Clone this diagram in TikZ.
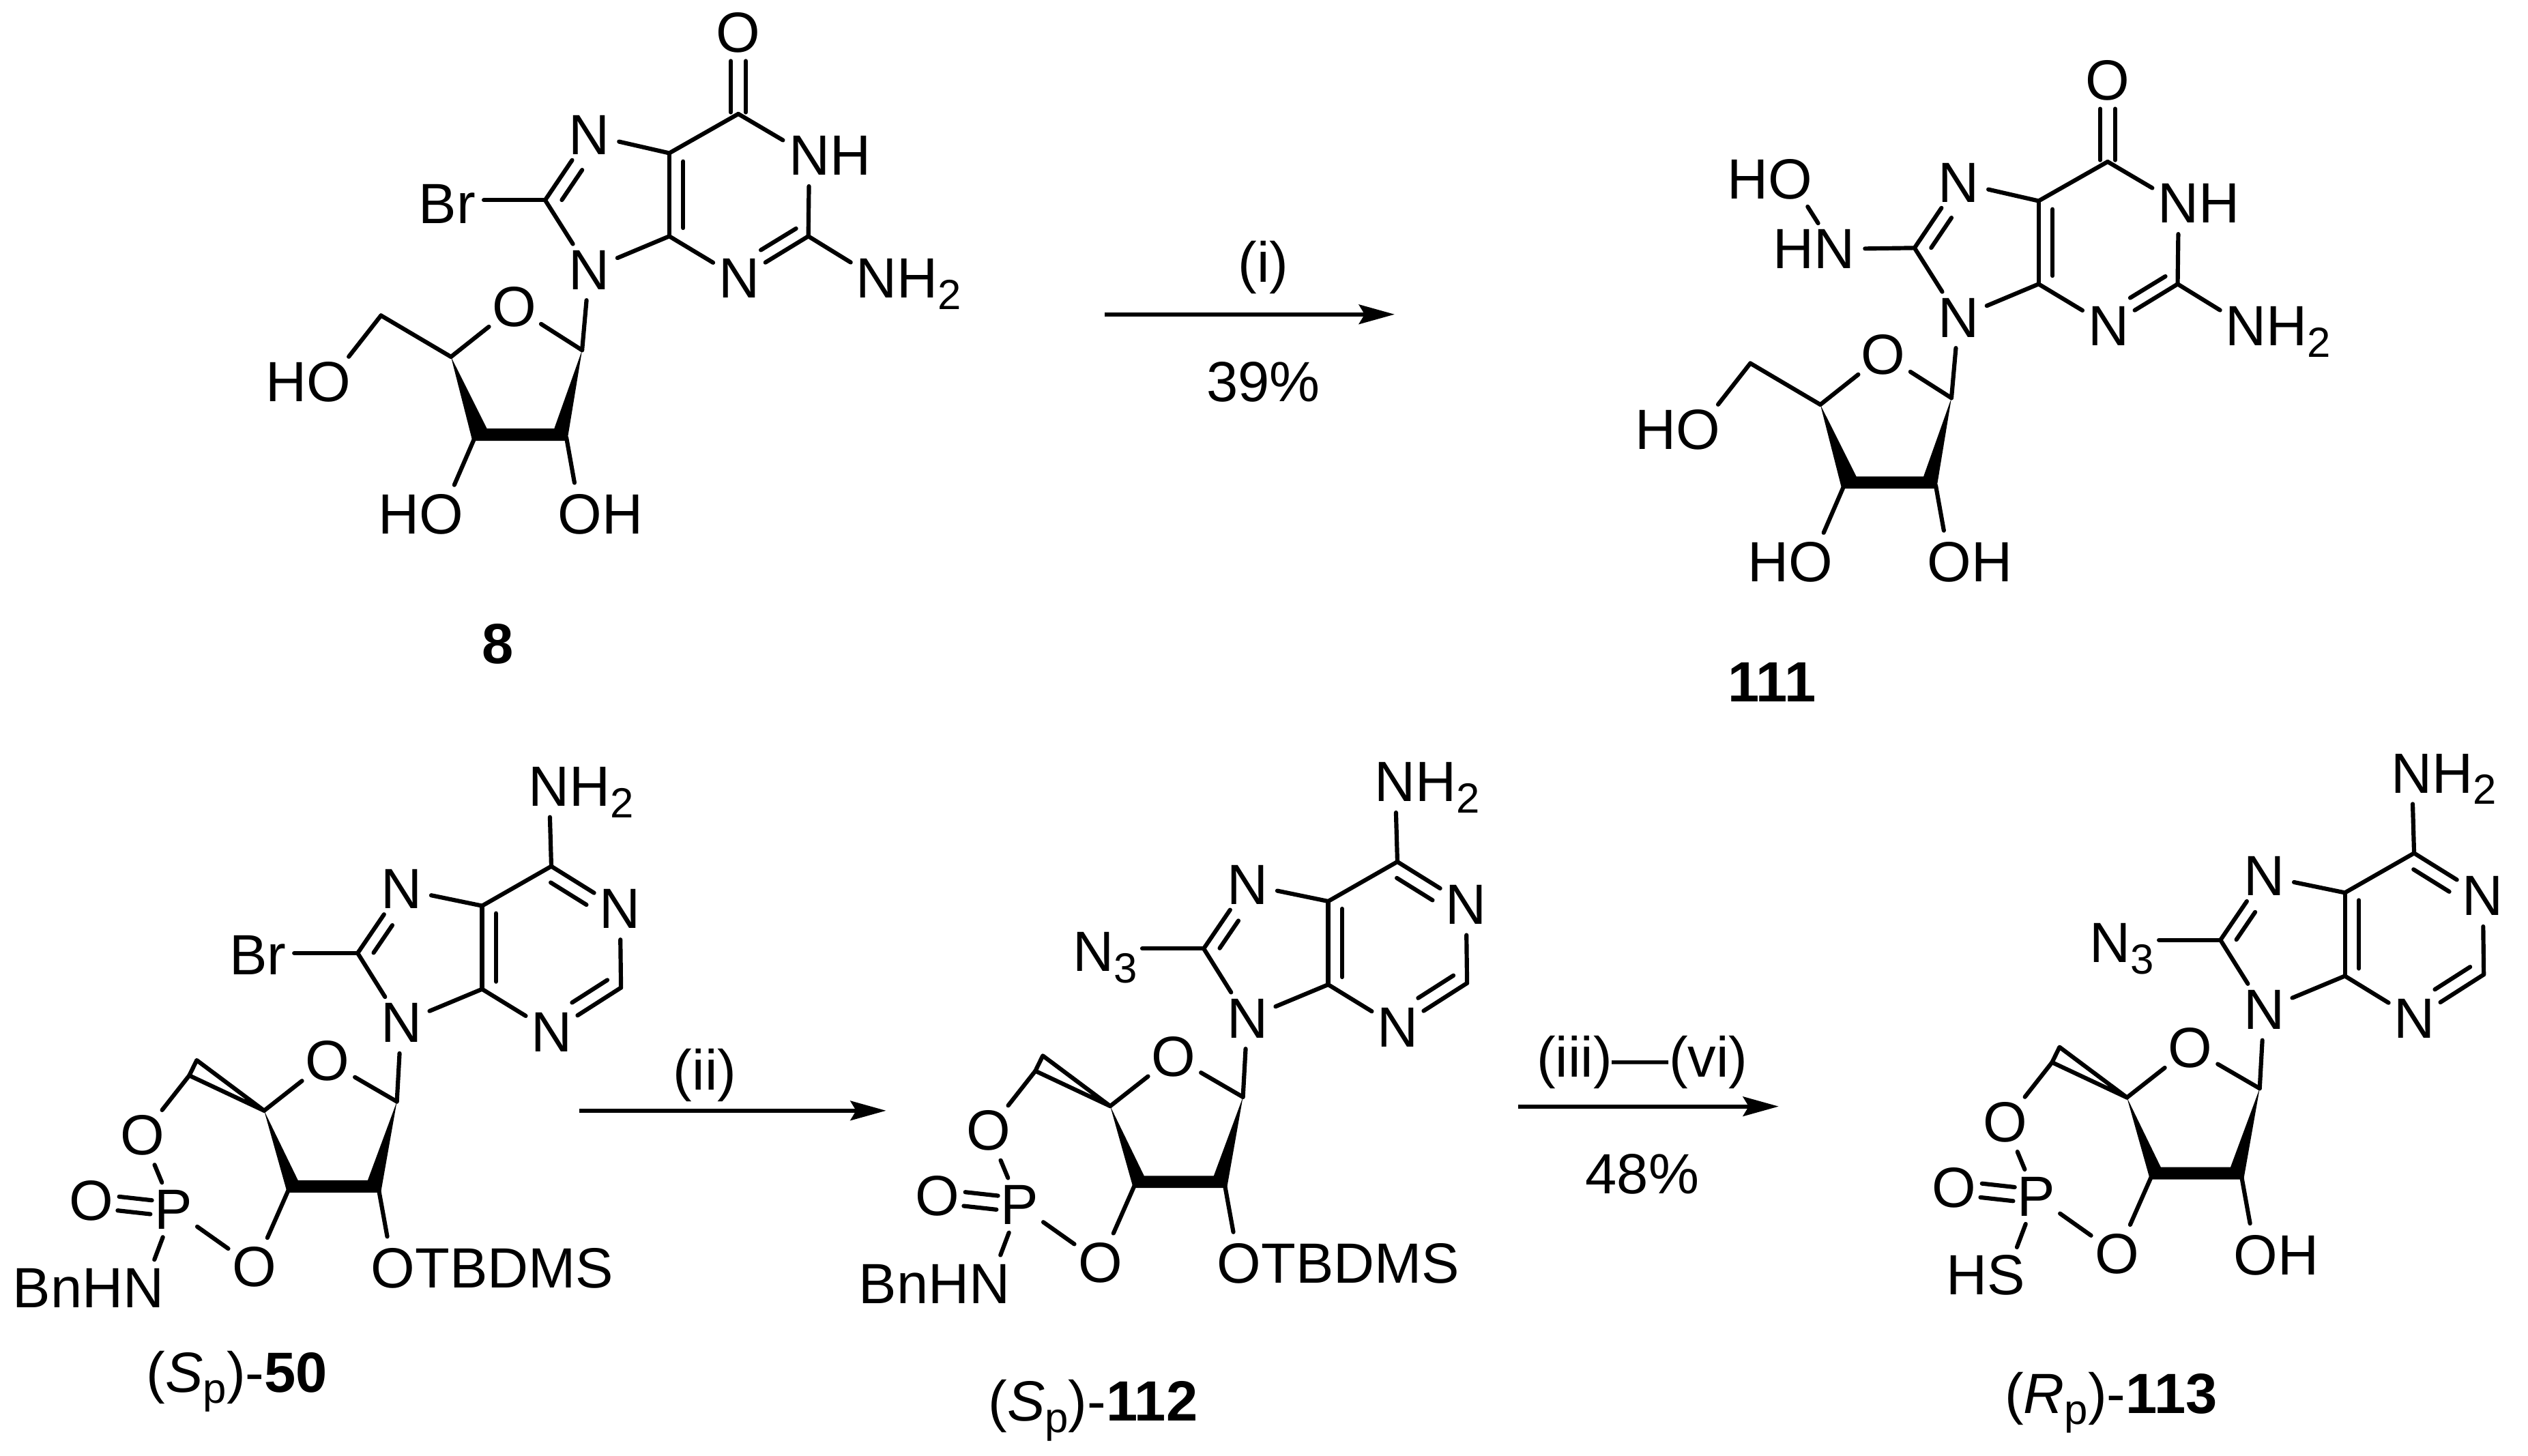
\documentclass[tikz,border=0pt]{standalone}
\usepackage{fontspec}
\setmainfont{Liberation Sans}
\usetikzlibrary{calc,arrows.meta}
\newcommand\sbs[1]{\smash{\raisebox{-7pt}{\fontsize{26}{26}\selectfont #1}}}
\newcommand\innerbond[6]{\draw[bond] ($(#1)!#4!(#2)!#6!#3:(#2)$) -- ($(#2)!#5!(#1)!#6!-#3:(#1)$);}
\newcommand\twinbond[5]{%
  \draw[bond] ($(#1)!#3!(#2)!#5!90:(#2)$) -- ($(#2)!#4!(#1)!#5!-90:(#1)$);
  \draw[bond] ($(#1)!#3!(#2)!#5!-90:(#2)$) -- ($(#2)!#4!(#1)!#5!90:(#1)$);}
\tikzset{
  bond/.style={line width=2.6pt,line cap=round,line join=round},
  atom/.style={circle,inner sep=1pt,outer sep=0pt,font=\fontsize{35}{41}\selectfont},
  subst/.style={rectangle,inner sep=0pt,outer sep=3pt,font=\fontsize{35}{41}\selectfont},
  lbl/.style={inner sep=0pt,anchor=base,font=\fontsize{35}{41}\selectfont},
  rxn/.style={line width=2.5pt,-{Stealth[length=22pt,width=12pt,inset=3.5pt]}}
}
% guanine nucleoside: #1 scope options, #2 the substituent on C8
\newcommand\guanine[2]{\begin{scope}[#1]
  \coordinate (c6) at (455.6,70.3);
  \coordinate (c2) at (498.8,145.8);
  \coordinate (c4) at (413,145.8);
  \coordinate (c5) at (413,94.5);
  \coordinate (c8) at (336.4,123.5);
  \coordinate (c1r) at (359.2,216.1);
  \coordinate (c4r) at (278.3,220.2);
  \coordinate (c5r) at (235.1,194.7);
  \coordinate (c3r) at (293,270);
  \coordinate (c2r) at (349.5,270);
  \node[atom] (o6) at (455.6,20.1) {O};
  \node[atom] (n1) at (499.4,96.1) {N\rlap{H}};
  \node[atom] (n3) at (456.2,171.8) {N};
  \node[atom] (n7) at (363.6,83.2) {N};
  \node[atom] (n9) at (363.6,166.5) {N};
  \node[atom] (n2) at (541,171.8) {N\rlap{H\sbs{2}}};
  \node[atom] (o4r) at (317.2,189.3) {O};
  \node[atom] (o5r) at (203,235.7) {\llap{H}O};
  \node[atom] (o3r) at (272.5,317.4) {\llap{H}O};
  \node[atom] (o2r) at (358,317.4) {O\rlap{H}};
  \draw[bond] (c6) -- (n1);
  \draw[bond] (n1) -- (c2);
  \draw[bond] (c2) -- (n3);
  \draw[bond] (n3) -- (c4);
  \draw[bond] (c4) -- (c5);
  \draw[bond] (c5) -- (c6);
  \draw[bond] (c5) -- (n7);
  \draw[bond] (n7) -- (c8);
  \draw[bond] (c8) -- (n9);
  \draw[bond] (n9) -- (c4);
  \draw[bond] (c2) -- (n2);
  \draw[bond] (n9) -- (c1r);
  \draw[bond] (c1r) -- (o4r);
  \draw[bond] (o4r) -- (c4r);
  \draw[bond] (c4r) -- (c5r);
  \draw[bond] (c5r) -- (o5r);
  \draw[bond] (c3r) -- (o3r);
  \draw[bond] (c2r) -- (o2r);
  \twinbond{c6}{o6}{.02}{.35}{4.6pt}
  \innerbond{c8}{n7}{-90}{.12}{.42}{8.5pt}
  \innerbond{c5}{c4}{90}{.1}{.1}{8.6pt}
  \innerbond{c2}{n3}{-90}{.08}{.41}{8pt}
  \fill (c4r) -- ($(c3r)+(7.5,-5.5)$) -- ($(c2r)+(-7.5,-5.5)$) -- (c1r) -- ($(c2r)+(.5,2)$) -- ($(c3r)+(-1.5,2)$) -- cycle;
  #2
\end{scope}}
% adenine cyclic phosphate: #1 scope options, #2 C8 substituent, #3 P substituent text, #4 O2' text
\newcommand\adenine[4]{\begin{scope}[#1]
  \coordinate (c6) at (340.2,534.6);
  \coordinate (c2) at (383.2,609.5);
  \coordinate (c4) at (297.5,610.4);
  \coordinate (c5) at (297.5,559);
  \coordinate (c8) at (220.7,588.2);
  \coordinate (c1r) at (244.9,679.8);
  \coordinate (c4r) at (163,685.4);
  \coordinate (c3r) at (178.6,733);
  \coordinate (c2r) at (233.5,733);
  \coordinate (c5u) at (121.4,654.3);
  \coordinate (c5l) at (116.8,663.7);
  \node[atom] (n6) at (338.8,485.4) {N\rlap{H\sbs{2}}};
  \node[atom] (n1) at (382.6,561) {N};
  \node[atom] (n3) at (340.5,636.8) {N};
  \node[atom] (n7) at (247.6,548.7) {N};
  \node[atom] (n9) at (247.6,631.2) {N};
  \node[atom] (o4r) at (201.9,654.8) {O};
  \node[atom] (o2r) at (242.5,782.6) {#4};
  \node[atom] (o3r) at (157,782) {O};
  \node[atom] (p) at (106.9,746.5) {P};
  \node[atom] (po) at (56.4,740.9) {O};
  \node[atom] (o5r) at (87.8,700.6) {O};
  \node[atom] (px) at (88.6,795) {#3};
  \draw[bond] (c6) -- (n6);
  \draw[bond] (c6) -- (n1);
  \draw[bond] (n1) -- (c2);
  \draw[bond] (c2) -- (n3);
  \draw[bond] (n3) -- (c4);
  \draw[bond] (c4) -- (c5);
  \draw[bond] (c5) -- (c6);
  \draw[bond] (c5) -- (n7);
  \draw[bond] (n7) -- (c8);
  \draw[bond] (c8) -- (n9);
  \draw[bond] (n9) -- (c4);
  \draw[bond] (n9) -- (c1r);
  \draw[bond] (c1r) -- (o4r);
  \draw[bond] (o4r) -- (c4r);
  \draw[bond] (c3r) -- (o3r);
  \draw[bond] (c2r) -- (o2r);
  \draw[bond] (o3r) -- (p);
  \draw[bond] (p) -- (o5r);
  \draw[bond] (p) -- (px);
  \draw[bond] (o5r) -- (c5l);
  \draw[bond] (c4r) -- (c5u) -- (c5l) -- cycle;
  \twinbond{p}{po}{.27}{.33}{4.3pt}
  \innerbond{c6}{n1}{-90}{.1}{.38}{8.7pt}
  \innerbond{c2}{n3}{-90}{.09}{.4}{8.5pt}
  \innerbond{c5}{c4}{90}{.09}{.09}{8.6pt}
  \innerbond{c8}{n7}{-90}{.12}{.45}{8pt}
  \fill (c4r) -- (183.9,728.4) -- (226.9,728.4) -- (c1r) -- (235,735.9) -- (177.2,735.9) -- cycle;
  #2
\end{scope}}
\newcommand\azide{%
  \node[subst,anchor=west] (az) at (137,590.1) {N\sbs{3}};
  \draw[bond] (c8) -- (az.east |- c8);}
\newcommand\bromo[2]{%
  \node[atom] (br) at (#1,#2) {Br};
  \draw[bond] (c8) -- (br.east |- c8);}
\begin{document}
\begin{tikzpicture}[x=1pt,y=-1pt]
\useasboundingbox (0,0) rectangle (1560,898.5);
\guanine{name prefix=g-}{\bromo{276}{125.7}}
\guanine{shift={(845,29.5)},name prefix=h-}{%
  \node[atom] (nh) at (287,124.2) {\llap{H}N};
  \node[atom] (oh) at (259.9,81.3) {\llap{H}O};
  \draw[bond] (c8) -- (nh);
  \draw[bond] (nh) -- (oh);}
\adenine{name prefix=a-}{\bromo{159}{589.6}}{\llap{BnH}N}{O\rlap{TBDMS}}
\adenine{shift={(522.1,-2.8)},name prefix=b-}{\azide}{\llap{BnH}N}{O\rlap{TBDMS}}
\adenine{shift={(1149.5,-8.1)},name prefix=c-}{\azide}{\llap{H}S}{O\rlap{H}}
\node[lbl] (l8) at (307.4,409.5) {\textbf{8}};
\node[lbl,anchor=base west] (l111) at (1066,433) {\textbf{111}};
\node[lbl] (l50) at (146.3,859) {(\textit{S}\sbs{p})-\textbf{50}};
\node[lbl] (l112) at (674.5,877) {(\textit{S}\sbs{p})-\textbf{112}};
\node[lbl] (l113) at (1302.7,872) {(\textit{R}\sbs{p})-\textbf{113}};
\coordinate (r1s) at (681.7,194);
\coordinate (r1e) at (860.6,194);
\coordinate (r2s) at (357.6,685.4);
\coordinate (r2e) at (546.8,685.4);
\coordinate (r3s) at (937,682.8);
\coordinate (r3e) at (1097.6,682.8);
\draw[rxn] (r1s) -- (r1e);
\draw[rxn] (r2s) -- (r2e);
\draw[rxn] (r3s) -- (r3e);
\node[lbl] (t1) at (779.5,174) {(i)};
\node[lbl] (t1b) at (779.5,247.6) {39\%};
\node[lbl] (t2) at (435,672.7) {(ii)};
\node[lbl] (t3) at (1013.4,664.8) {(iii)—(vi)};
\node[lbl] (t3b) at (1013.4,736.6) {48\%};
\end{tikzpicture}
\end{document}
